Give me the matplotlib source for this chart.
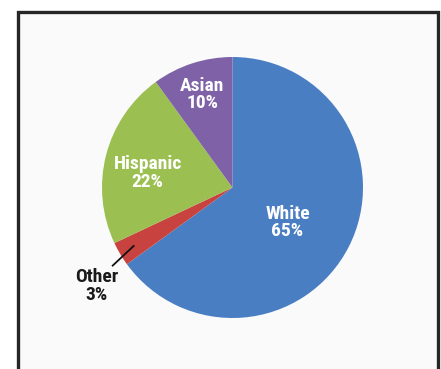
import numpy as np
import matplotlib
matplotlib.use("Agg")
import matplotlib.pyplot as plt
from matplotlib.patches import Rectangle
from matplotlib import font_manager

categories = ["White", "Other", "Hispanic", "Asian"]
values = [65, 3, 22, 10]
colors = ["#4a7ec2", "#c8433f", "#9cbf52", "#7e61a7"]

names = {f.name for f in font_manager.fontManager.ttflist}
fam = "DejaVu Sans"
for cand in ["Roboto Condensed", "Archivo Narrow", "PT Sans Narrow",
             "Liberation Sans Narrow"]:
    if cand in names:
        fam = cand
        break

W, H = 441, 369
fig = plt.figure(figsize=(W / 100, H / 100), dpi=100)
fig.patch.set_facecolor("white")

# background frame
bg = fig.add_axes([0, 0, 1, 1])
bg.set_xlim(0, W)
bg.set_ylim(H, 0)
bg.axis("off")
bg.add_patch(Rectangle((17.5, 11.5), 420, 370, facecolor="#fafafa",
                       edgecolor="#262626", linewidth=2.4))

cx, cy, r = 232.5, 187.5, 130.5
ax = fig.add_axes([(cx - r) / W, (H - cy - r) / H, 2 * r / W, 2 * r / H])
wedges, _ = ax.pie(values, colors=colors, startangle=90, counterclock=False,
                   wedgeprops=dict(linewidth=0))
ax.set_xlim(-1, 1)
ax.set_ylim(-1, 1)
ax.set_aspect("equal")

fs = 14
# label placement: (radius, angle offset in degrees)
place = {"White": (0.5, -5.5), "Hispanic": (0.66, 4.5), "Asian": (0.75, 0.0)}
for w, name, v in zip(wedges, categories, values):
    mid = np.deg2rad((w.theta1 + w.theta2) / 2)
    if name in place:
        rr, off = place[name]
        a = mid + np.deg2rad(off)
        ax.text(rr * np.cos(a), rr * np.sin(a), f"{name}\n{v}%", ha="center",
                va="center", color="white", fontsize=fs, fontweight="bold",
                family=fam, linespacing=0.98)
    else:
        p0 = 0.88 * np.array([np.cos(mid), np.sin(mid)])
        a1 = mid + np.deg2rad(2.5)
        p1 = 1.096 * np.array([np.cos(a1), np.sin(a1)])
        ax.plot([p0[0], p1[0]], [p0[1], p1[1]], color="#111111", lw=1.3,
                clip_on=False)
        ax.text(-135.5 / r, -98.5 / r, f"{name}\n{v}%", ha="center", va="center",
                color="#1a1a1a", fontsize=fs, fontweight="bold", family=fam,
                linespacing=0.98)

fig.savefig("out.png", dpi=100)
